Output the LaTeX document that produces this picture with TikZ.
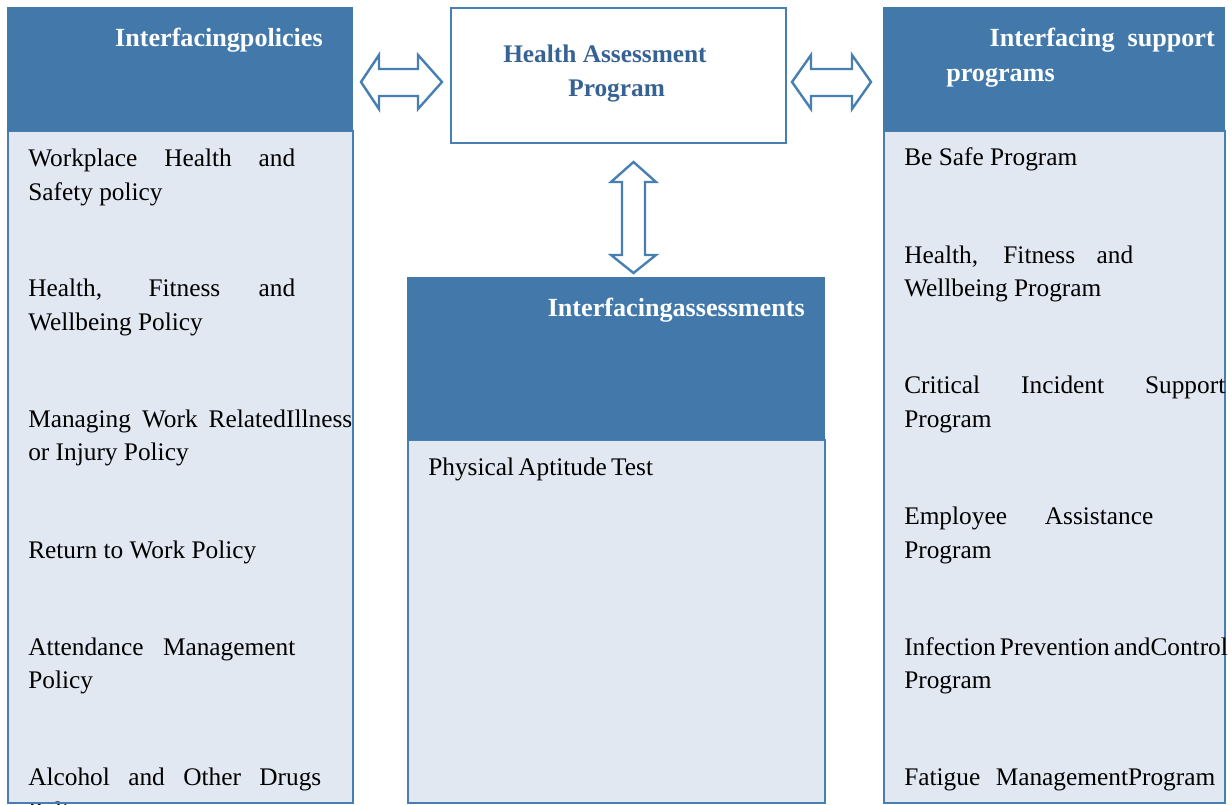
\documentclass[tikz,border=0pt]{standalone}
\usepackage{fontspec}
\setmainfont{Liberation Serif}
\definecolor{hdr}{RGB}{66,121,170}
\definecolor{bodyfill}{RGB}{225,232,242}
\definecolor{bord}{RGB}{72,127,178}
\definecolor{ttl}{RGB}{55,98,148}
\tikzset{
  item/.style={anchor=base west, inner sep=0pt, font=\fontsize{19}{25.5}\selectfont},
  hdrtxt/.style={inner sep=0pt, text=white, font=\bfseries\fontsize{19.6}{25.5}\selectfont},
  hdrbox/.style={fill=hdr, draw=none},
  bodybox/.style={fill=bodyfill, draw=bord, line width=1.5pt},
  dblarrow/.style={draw=bord, fill=white, line width=1.8pt, line join=miter},
}
\begin{document}
\begin{tikzpicture}[x=0.75pt,y=-0.75pt]
\clip (0,0) rectangle (1232,805);
\fill[white] (0,0) rectangle (1232,805);

% left column
\draw[bodybox] (8,131) rectangle (353,803);
\fill[hdrbox] (7,7) rectangle (353,131);
\node[hdrtxt, anchor=base east] (lh) at (323,47) {Interfacingpolicies};
\node[item] (l1a) at (28,167) {\makebox[200.25pt][s]{Workplace Health and}};
\node[item] (l1b) at (28,201) {Safety policy};
\node[item] (l2a) at (28,297) {\makebox[200.25pt][s]{Health, Fitness and}};
\node[item] (l2b) at (28,331) {Wellbeing Policy};
\node[item] (l3a) at (28,428) {\makebox[243pt][s]{Managing Work RelatedIllness}};
\node[item] (l3b) at (28,461) {or Injury Policy};
\node[item] (l4a) at (28,558) {Return to Work Policy};
\node[item] (l5a) at (28,655) {\makebox[200.25pt][s]{Attendance Management}};
\node[item] (l5b) at (28,688) {Policy};
\node[item] (l6a) at (28,785) {\makebox[219.75pt][s]{Alcohol and Other Drugs}};
\node[item] (l6b) at (28,819) {Policy};
\draw[bord, line width=1.5pt] (8,803) -- (353,803);

% centre top box
\node[draw=bord, line width=1.8pt, fill=white, minimum width=335*0.75pt, minimum height=135*0.75pt, inner sep=0pt] (hap) at (618.5,75.5) {};
\node[inner sep=0pt, anchor=base west, text=ttl, font=\bfseries\fontsize{19}{25.5}\selectfont] (hap1) at (503,63) {Health Assessment};
\node[inner sep=0pt, anchor=base west, text=ttl, font=\bfseries\fontsize{19}{25.5}\selectfont] (hap2) at (568,97) {Program};

% centre column
\draw[bodybox] (408,440) rectangle (825,803);
\fill[hdrbox] (407,277) rectangle (825,440);
\node[hdrtxt, anchor=base east] (mh) at (805,317) {Interfacingassessments};
\node[item] (m1) at (428,475) {\makebox[167.25pt][s]{Physical Aptitude Test}};
\draw[bord, line width=1.5pt] (408,803) -- (825,803);

% right column
\draw[bodybox] (884,131) rectangle (1225,803);
\fill[hdrbox] (883,7) rectangle (1225,131);
\node[hdrtxt, anchor=base east] (rh1) at (1215,47) {\makebox[168.75pt][s]{Interfacing support}};
\node[hdrtxt, anchor=base west] (rh2) at (946,82) {programs};
\node[item] (r1a) at (904,166) {Be Safe Program};
\node[item] (r2a) at (904,264) {\makebox[171.75pt][s]{Health, Fitness and}};
\node[item] (r2b) at (904,297) {Wellbeing Program};
\node[item] (r3a) at (904,394) {\makebox[240.75pt][s]{Critical Incident Support}};
\node[item] (r3b) at (904,428) {Program};
\node[item] (r4a) at (904,524) {\makebox[186.75pt][s]{Employee Assistance}};
\node[item] (r4b) at (904,558) {Program};
\node[item] (r5a) at (904,655) {\makebox[239.25pt][s]{Infection Prevention andControl}};
\node[item] (r5b) at (904,688) {Program};
\node[item] (r6a) at (904,785) {\makebox[233.25pt][s]{Fatigue ManagementProgram}};
\draw[bord, line width=1.5pt] (884,803) -- (1225,803);

% double arrows
\draw[dblarrow] (361,82) -- (379,55) -- (379,69) -- (418,69) -- (418,55) -- (442,82)
  -- (418,109) -- (418,96) -- (379,96) -- (379,109) -- cycle;
\draw[dblarrow] (792,82) -- (811,55) -- (811,69) -- (852,69) -- (852,55) -- (871,82)
  -- (852,109) -- (852,96) -- (811,96) -- (811,109) -- cycle;
\draw[dblarrow] (633.5,162) -- (656,182) -- (645,182) -- (645,255) -- (656,255) -- (633.5,273)
  -- (611,255) -- (622,255) -- (622,182) -- (611,182) -- cycle;
\end{tikzpicture}
\end{document}
